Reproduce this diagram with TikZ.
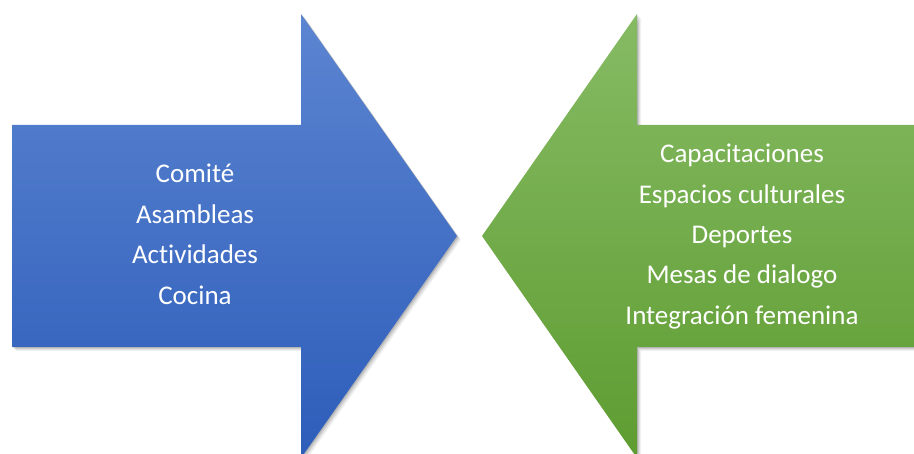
\documentclass[tikz,border=0pt]{standalone}
\usepackage{fontspec}
\setmainfont[Ligatures=NoCommon]{Carlito}
\usetikzlibrary{calc}
\definecolor{bluetop}{HTML}{5C85D1}
\definecolor{bluebot}{HTML}{2D5DBA}
\definecolor{greentop}{HTML}{86BB64}
\definecolor{greenbot}{HTML}{5E9C31}
\tikzset{
  lbl/.style={anchor=base, text=white, inner sep=0pt, font=\fontsize{27}{32}\selectfont},
}
\begin{document}
\begin{tikzpicture}[x=1pt,y=-1pt]
\useasboundingbox (0,0) rectangle (914,454);
\begin{scope}
\clip (0,0) rectangle (914,454);
% shadows
\foreach \d/\o in {1/0.12,2/0.09,3/0.07,4/0.05}{
  \fill[black,opacity=\o] ($(12,125)+(\d,\d)$) -- ++(289,0) -- ++(0,-111) -- ++(156,222) -- ++(-156,222) -- ++(0,-111) -- ++(-289,0) -- cycle;
  \fill[black,opacity=\o] ($(940,125)+(\d,\d)$) -- ++(-303,0) -- ++(0,-111) -- ++(-155,222) -- ++(155,222) -- ++(0,-111) -- ++(303,0) -- cycle;
}
\shade[top color=bluetop, bottom color=bluebot]
  (12,125) -- (301,125) -- (301,14) -- (457,236) -- (301,458) -- (301,347) -- (12,347) -- cycle;
\shade[top color=greentop, bottom color=greenbot]
  (940,125) -- (637,125) -- (637,14) -- (482,236) -- (637,458) -- (637,347) -- (940,347) -- cycle;
\end{scope}
\node[lbl] (b1) at (195,183) {Comité};
\node[lbl] (b2) at (195,223.5) {Asambleas};
\node[lbl] (b3) at (195,264) {Actividades};
\node[lbl] (b4) at (195,304.5) {Cocina};
\node[lbl] (g1) at (742,163) {Capacitaciones};
\node[lbl] (g2) at (742,203.3) {Espacios culturales};
\node[lbl] (g3) at (742,243.6) {Deportes};
\node[lbl] (g4) at (742,283.9) {Mesas de dialogo};
\node[lbl] (g5) at (742,324.2) {Integración femenina};
\end{tikzpicture}
\end{document}
